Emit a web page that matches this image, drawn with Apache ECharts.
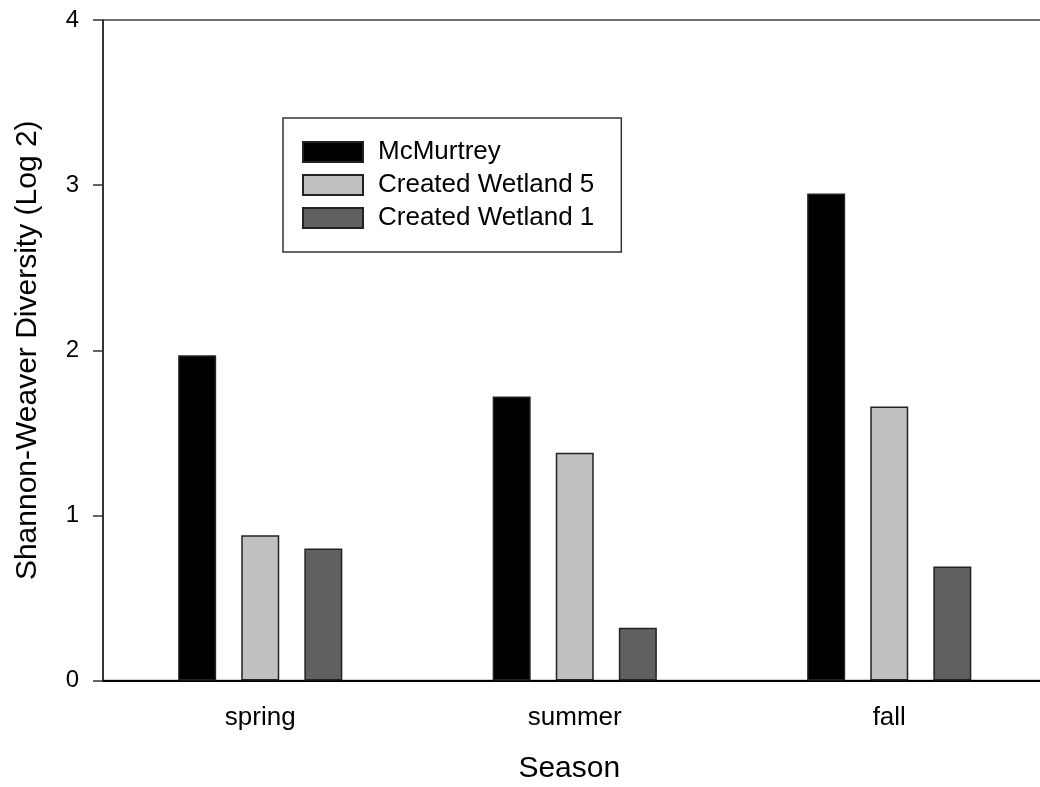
<!DOCTYPE html>
<html>
	<head>
		<meta charset="utf-8" />
		<title>Shannon-Weaver Diversity</title>
		<script type="text/javascript" src="https://cdn.jsdelivr.net/npm/echarts@6/dist/echarts.min.js"></script>
		<style>
			html, body { margin: 0; padding: 0; background: #fff; }
		</style>
		<script type="text/javascript">
		var myChart;

		// values
		var seasons = ['spring', 'summer', 'fall'];
		var mcmurtrey = [1.97, 1.72, 2.95];
		var wetland5 = [0.88, 1.38, 1.66];
		var wetland1 = [0.80, 0.32, 0.69];
		var yMin = 0, yMax = 4, yStep = 1;

		var font = 'Liberation Sans, Arial, sans-serif';

		function barSeries(name, color, data) {
			return {
				name: name,
				type: 'bar',
				barWidth: 38,
				barGap: '66%',
				itemStyle: {
					color: color,
					borderColor: '#222',
					borderWidth: 1.5
				},
				data: data
			};
		}

		option = {
			animation: false,
			backgroundColor: '#fff',
			textStyle: { fontFamily: font, color: '#000' },
			grid: {
				left: 103,
				top: 20,
				right: -6.5,
				bottom: 106.5,
				outerBoundsMode: 'none',
				containLabel: false,
				show: true,
				borderColor: '#444',
				borderWidth: 1.5
			},
			legend: {
				orient: 'vertical',
				left: 283,
				top: 118,
				padding: [21, 27, 21, 19],
				itemWidth: 60,
				itemHeight: 20,
				itemGap: 7,
				icon: 'rect',
				borderColor: '#333',
				borderWidth: 1.5,
				textStyle: {
					fontFamily: font,
					fontSize: 26,
					lineHeight: 26,
					color: '#000',
					padding: [0, 0, 0, 10]
				},
				data: ['McMurtrey', 'Created Wetland 5', 'Created Wetland 1']
			},
			xAxis: {
				type: 'category',
				data: seasons,
				name: 'Season',
				nameLocation: 'middle',
				nameGap: 73,
				nameTextStyle: { fontFamily: font, fontSize: 30, color: '#000', padding: [0, 11, 0, 0] },
				axisLine: { lineStyle: { color: '#000', width: 2 } },
				axisTick: { alignWithLabel: true, length: 10, lineStyle: { color: '#333', width: 1.5 } },
				axisLabel: { fontFamily: font, fontSize: 26, color: '#000', margin: 24 },
				splitLine: { show: false }
			},
			yAxis: {
				type: 'value',
				min: yMin,
				max: yMax,
				interval: yStep,
				name: 'Shannon-Weaver Diversity (Log 2)',
				nameLocation: 'middle',
				nameGap: 60,
				nameTextStyle: { fontFamily: font, fontSize: 30, color: '#000' },
				axisLine: { show: true, lineStyle: { color: '#222', width: 1.5 } },
				axisTick: { show: true, length: 10, lineStyle: { color: '#333', width: 1.5 } },
				axisLabel: { fontFamily: font, fontSize: 24, color: '#000', margin: 24 },
				splitLine: { show: false }
			},
			series: [
				barSeries('McMurtrey', '#000000', mcmurtrey),
				barSeries('Created Wetland 5', '#c0c0c0', wetland5),
				barSeries('Created Wetland 1', '#606060', wetland1)
			]
		};

		window.onload = function(){
			myChart = echarts.init(document.getElementById('main'));
			myChart.setOption(option);
		}
		</script>
	</head>
	<body>
		<div id="main" style="width: 1040px;height:787px;"></div>
	</body>
</html>
